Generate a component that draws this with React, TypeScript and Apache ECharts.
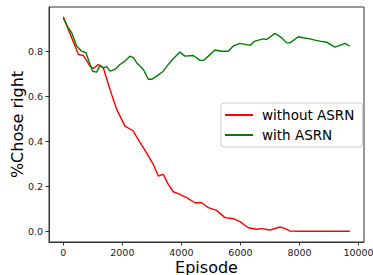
import React, { useEffect, useRef } from "react";
import * as echarts from "echarts";

const xTicks = [0, 2000, 4000, 6000, 8000, 10000];
const yTicks = [0, 0.2, 0.4, 0.6, 0.8];

const redEpisodes = [0, 170, 508, 677, 904, 1016, 1185, 1354, 1581, 1808, 2089, 2371, 2430, 2710, 2880, 3048, 3217, 3386, 3555, 3725, 3950, 4179, 4460, 4686, 4912, 5194, 5476, 5757, 5984, 6265, 6548, 6717, 7000, 7338, 7508, 7677, 8000, 9000, 9706];
const redValues = [0.954, 0.898, 0.787, 0.782, 0.735, 0.724, 0.742, 0.727, 0.631, 0.542, 0.468, 0.446, 0.431, 0.372, 0.335, 0.298, 0.246, 0.253, 0.209, 0.176, 0.164, 0.15, 0.127, 0.127, 0.105, 0.093, 0.061, 0.056, 0.043, 0.016, 0.009, 0.012, 0.006, 0.019, 0.013, 0.001, 0.0, 0.0, 0.0];

const greenEpisodes = [0, 170, 283, 452, 621, 768, 904, 994, 1129, 1242, 1354, 1467, 1581, 1750, 1919, 2089, 2258, 2371, 2484, 2710, 2880, 2991, 3160, 3386, 3555, 3725, 3950, 4120, 4402, 4629, 4742, 4912, 5137, 5363, 5589, 5757, 5984, 6322, 6492, 6774, 6886, 7169, 7395, 7564, 7677, 7959, 8128, 8354, 8523, 8693, 8919, 9200, 9370, 9539, 9706];
const greenValues = [0.947, 0.905, 0.883, 0.824, 0.801, 0.794, 0.742, 0.712, 0.708, 0.738, 0.727, 0.732, 0.712, 0.72, 0.742, 0.757, 0.779, 0.772, 0.75, 0.72, 0.676, 0.676, 0.69, 0.712, 0.742, 0.767, 0.797, 0.779, 0.782, 0.76, 0.76, 0.779, 0.806, 0.801, 0.801, 0.824, 0.836, 0.827, 0.846, 0.856, 0.853, 0.88, 0.861, 0.838, 0.838, 0.865, 0.861, 0.856, 0.85, 0.846, 0.841, 0.819, 0.827, 0.836, 0.824];

const seriesNames = ["without ASRN", "with ASRN"];
const FONT = "DejaVu Sans";

export default function App() {
  const ref = useRef<HTMLDivElement>(null);
  useEffect(() => {
    if (!ref.current) return;
    const chart = echarts.init(ref.current, undefined, { renderer: "svg" });
    const red = redEpisodes.map((x, i) => [x, redValues[i]]);
    const green = greenEpisodes.map((x, i) => [x, greenValues[i]]);
    chart.setOption({
      animation: false,
      textStyle: { fontFamily: FONT },
      grid: {
        left: 49,
        right: 9,
        top: 7,
        bottom: 33,
        containLabel: false,
        outerBoundsMode: "none",
        show: true,
        borderColor: "#333",
        borderWidth: 1,
        backgroundColor: "#fff",
      },
      xAxis: {
        type: "value",
        min: -485,
        max: 10185,
        name: "Episode",
        nameLocation: "middle",
        nameGap: 17,
        nameMoveOverlap: false,
        nameTextStyle: { fontSize: 16, color: "#000", fontFamily: FONT },
        axisLine: { show: true, onZero: false, lineStyle: { color: "#333" } },
        axisTick: { show: true, length: 3.5, customValues: xTicks, lineStyle: { color: "#333" } },
        axisLabel: {
          customValues: xTicks,
          fontSize: 9.5,
          color: "#222",
          margin: 5,
          fontFamily: FONT,
          formatter: (v: number) => String(Math.round(v)),
        },
        splitLine: { show: false },
      },
      yAxis: {
        type: "value",
        min: -0.0475,
        max: 0.9975,
        name: "%Chose right",
        nameLocation: "middle",
        nameGap: 24,
        nameMoveOverlap: false,
        nameTextStyle: { fontSize: 16, color: "#000", fontFamily: FONT },
        axisLine: { show: true, onZero: false, lineStyle: { color: "#333" } },
        axisTick: { show: true, length: 3.5, customValues: yTicks, lineStyle: { color: "#333" } },
        axisLabel: {
          customValues: yTicks,
          fontSize: 9.5,
          color: "#222",
          margin: 6,
          fontFamily: FONT,
          formatter: (v: number) => v.toFixed(1),
        },
        splitLine: { show: false },
      },
      legend: {
        data: seriesNames,
        orient: "vertical",
        left: 221,
        top: 103,
        width: 137,
        itemWidth: 28,
        itemHeight: 2,
        itemGap: 6,
        icon: "rect",
        padding: [5, 8, 5, 4],
        borderColor: "#ccc",
        borderWidth: 1,
        borderRadius: 3,
        backgroundColor: "rgba(255,255,255,0.8)",
        textStyle: { fontSize: 13.5, color: "#000", fontFamily: FONT, padding: [0, 0, 0, 4] },
      },
      series: [
        {
          name: seriesNames[0],
          type: "line",
          data: red,
          showSymbol: false,
          lineStyle: { color: "#ff0000", width: 1.4 },
          itemStyle: { color: "#ff0000" },
        },
        {
          name: seriesNames[1],
          type: "line",
          data: green,
          showSymbol: false,
          lineStyle: { color: "#008000", width: 1.4 },
          itemStyle: { color: "#008000" },
        },
      ],
    });
    return () => chart.dispose();
  }, []);
  return <div ref={ref} style={{ width: 373, height: 275, position: "absolute", left: 0, top: 0, background: "#fff" }} />;
}
